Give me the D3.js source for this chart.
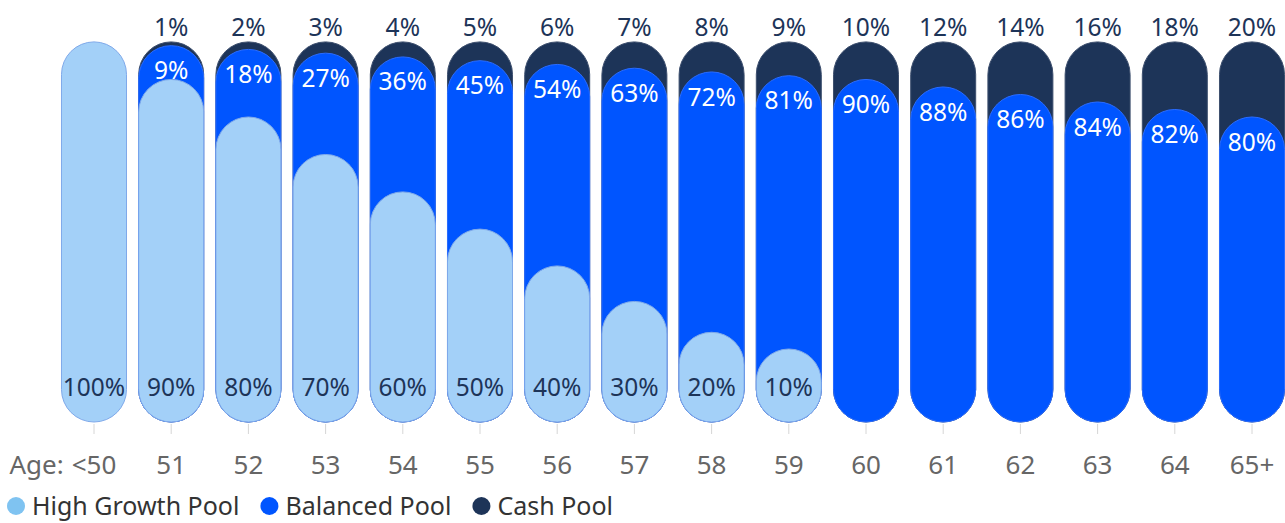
<!DOCTYPE html>
<html>
<head>
<meta charset="utf-8">
<script src="https://cdn.jsdelivr.net/npm/d3@7"></script>
<style>
  body { margin: 0; background: #fff; }
  svg { display: block; font-family: "Noto Sans", sans-serif; }
</style>
</head>
<body>
<div id="container"></div>
<script>
const ages = ["<50", "51", "52", "53", "54", "55", "56", "57", "58", "59", "60", "61", "62", "63", "64", "65+"];
const highGrowth = [100, 90, 80, 70, 60, 50, 40, 30, 20, 10, 0, 0, 0, 0, 0, 0];
const balanced = [0, 9, 18, 27, 36, 45, 54, 63, 72, 81, 90, 88, 86, 84, 82, 80];
const cash = [0, 1, 2, 3, 4, 5, 6, 7, 8, 9, 10, 12, 14, 16, 18, 20];
const seriesNames = ["High Growth Pool", "Balanced Pool", "Cash Pool"];

const width = 1285;
const height = 523;
const colors = {
  hg: "#a3d0f8",
  hgLegend: "#7fc3f1",
  bal: "#0055ff",
  cash: "#1d3458"
};
const labelSize = 24.5;

const svg = d3.select("#container")
              .append("svg")
              .attr("width", width)
              .attr("height", height);

const x = d3.scaleBand()
            .domain(ages)
            .range([55.4, 1290.6])
            .paddingInner(0.158)
            .paddingOuter(0.079);
const y = d3.scaleLinear()
            .domain([0, 100])
            .range([418, 42]);

const barBottom = y(0) + 4;
const minPill = 71;

// pill height: keeps short segments tall enough to show a round top
function pillTop(v) {
  const h = barBottom - y(v);
  const hh = Math.pow(Math.pow(h, 4) + Math.pow(minPill, 4), 0.25);
  return barBottom - hh;
}

const rows = ages.map((a, i) => ({
  age: a,
  hg: highGrowth[i],
  bal: balanced[i],
  cash: cash[i]
}));

const bars = svg.selectAll("g.bar")
                .data(rows)
                .enter()
                .append("g")
                .attr("class", "bar")
                .attr("transform", (d) => "translate(" + x(d.age) + ",0)");

const bw = x.bandwidth();

function pill(sel, key, cum, fill, stroke) {
  sel.filter((d) => d[key] > 0)
     .append("rect")
     .attr("x", 0)
     .attr("width", bw)
     .attr("y", (d) => pillTop(cum(d)))
     .attr("height", (d) => barBottom - pillTop(cum(d)))
     .attr("rx", bw / 2)
     .attr("ry", bw / 2)
     .attr("fill", fill)
     .attr("stroke", stroke)
     .attr("stroke-width", 1);
}

pill(bars, "cash", (d) => d.hg + d.bal + d.cash, colors.cash, "#3d4f6e");
pill(bars, "bal", (d) => d.hg + d.bal, colors.bal, "#2a6cff");
pill(bars, "hg", (d) => d.hg, colors.hg, "#7fa9ea");

// labels
bars.filter((d) => d.cash > 0)
    .append("text")
    .attr("x", bw / 2)
    .attr("y", (d) => y(d.hg + d.bal + d.cash) - 15)
    .attr("dy", "0.35em")
    .attr("text-anchor", "middle")
    .attr("font-size", labelSize)
    .attr("fill", colors.cash)
    .text((d) => d.cash + "%");

bars.filter((d) => d.bal > 0)
    .append("text")
    .attr("x", bw / 2)
    .attr("y", (d) => pillTop(d.hg + d.bal) + 25)
    .attr("dy", "0.35em")
    .attr("text-anchor", "middle")
    .attr("font-size", labelSize)
    .attr("fill", "#fff")
    .text((d) => d.bal + "%");

bars.filter((d) => d.hg > 0)
    .append("text")
    .attr("x", bw / 2)
    .attr("y", y(0) - 31)
    .attr("dy", "0.35em")
    .attr("text-anchor", "middle")
    .attr("font-size", labelSize)
    .attr("fill", "#1d3458")
    .text((d) => d.hg + "%");

// x axis
const xAxis = d3.axisBottom(x).tickSize(10).tickPadding(22);
const ax = svg.append("g")
              .attr("transform", "translate(0," + 424 + ")")
              .call(xAxis);
ax.select(".domain").remove();
ax.selectAll(".tick line").attr("stroke", "#d6d6d6");
ax.selectAll(".tick text")
  .attr("font-size", 26)
  .attr("fill", "#666")
  .attr("font-family", "Noto Sans, sans-serif");

const firstLabel = ax.select(".tick text").node();
const firstW = firstLabel.getComputedTextLength();
svg.append("text")
   .attr("x", x(ages[0]) + bw / 2 - firstW / 2 - 8)
   .attr("y", 424 + 32)
   .attr("dy", "0.71em")
   .attr("text-anchor", "end")
   .attr("font-size", 26)
   .attr("fill", "#666")
   .text("Age:");

// legend
const legendColors = [colors.hgLegend, colors.bal, colors.cash];
const legend = svg.append("g").attr("transform", "translate(0,506)");
let lx = 16;
seriesNames.forEach((name, i) => {
  legend.append("circle")
        .attr("cx", lx)
        .attr("cy", 0)
        .attr("r", 9)
        .attr("fill", legendColors[i]);
  const t = legend.append("text")
                  .attr("x", lx + 16)
                  .attr("y", 0)
                  .attr("dy", "0.35em")
                  .attr("font-size", 25)
                  .attr("fill", "#333")
                  .text(name);
  lx += 16 + t.node().getComputedTextLength() + 30;
});
</script>
</body>
</html>
